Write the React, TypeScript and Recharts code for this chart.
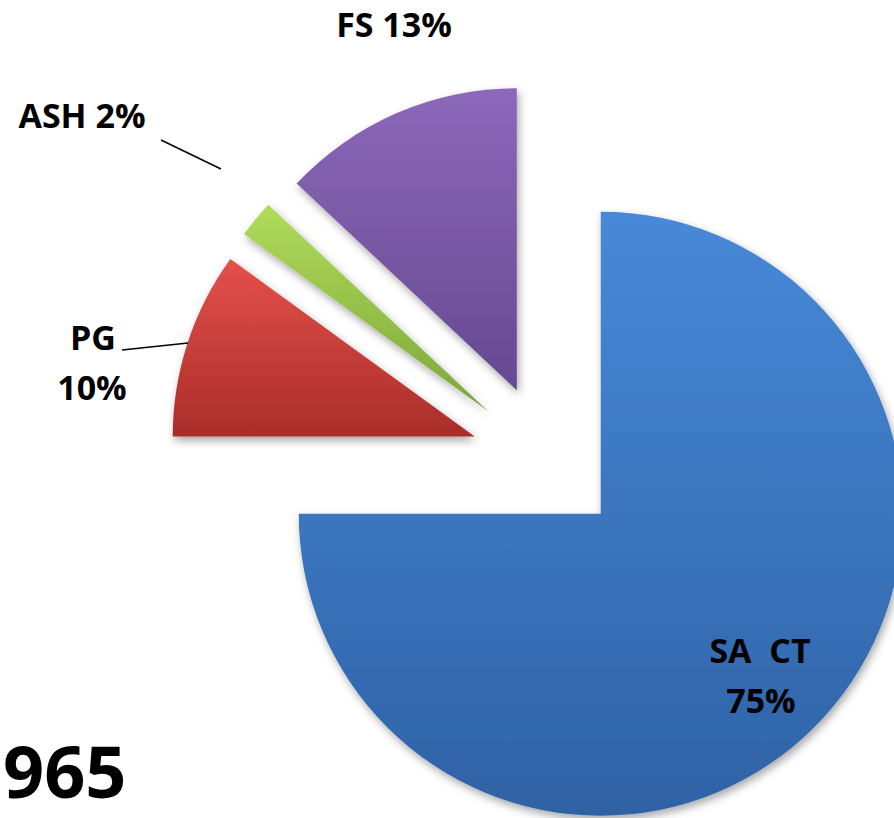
import React from 'react';
import { PieChart, Pie, Cell } from 'recharts';

// slice order is clockwise from 12 o'clock
const categories = ['SA  CT', 'PG', 'ASH', 'FS'];
const shares = [75, 10, 2, 13];
const percentLabels = ['75%', '10%', '2%', '13%'];
const yearText = '965';

const colors = [
  { top: '#4789d8', bottom: '#2f62a5' },
  { top: '#e5504a', bottom: '#a92d2a' },
  { top: '#b0dc5a', bottom: '#7ca63a' },
  { top: '#8c68ba', bottom: '#654990' },
];

const W = 894;
const H = 818;
const CX = 547;
const CY = 460;
const RADIUS = 302;
const EXPLODE = 76;

const data = categories.map((name, i) => ({ name, value: shares[i] }));
const total = shares.reduce((a, b) => a + b, 0);

// offset each slice outwards along its middle angle
const offsets = shares.map((v, i) => {
  const before = shares.slice(0, i).reduce((a, b) => a + b, 0);
  const mid = ((before + v / 2) / total) * 2 * Math.PI;
  return { dx: EXPLODE * Math.sin(mid), dy: -EXPLODE * Math.cos(mid) };
});

const font = '"Open Sans", Lato, sans-serif';

export default function App() {
  return (
    <div style={{ position: 'absolute', left: 0, top: 0, width: W, height: H, background: '#fff', overflow: 'hidden' }}>
      <PieChart width={W} height={H} margin={{ top: 0, right: 0, bottom: 0, left: 0 }}>
        <defs>
          {colors.map((c, i) => (
            <linearGradient key={i} id={`grad${i}`} x1="0" y1="0" x2="0" y2="1">
              <stop offset="0%" stopColor={c.top} />
              <stop offset="100%" stopColor={c.bottom} />
            </linearGradient>
          ))}
          <filter id="shadow" x="-10%" y="-10%" width="130%" height="130%">
            <feDropShadow dx="2" dy="4" stdDeviation="4" floodColor="#000" floodOpacity="0.35" />
          </filter>
        </defs>
        {offsets.map((o, k) => (
          <Pie
            key={k}
            data={data}
            dataKey="value"
            nameKey="name"
            cx={CX + o.dx}
            cy={CY + o.dy}
            outerRadius={RADIUS}
            startAngle={90}
            endAngle={-270}
            stroke="none"
            isAnimationActive={false}
            labelLine={false}
          >
            {data.map((d, i) => (
              <Cell
                key={d.name}
                fill={i === k ? `url(#grad${i})` : 'none'}
                filter={i === k ? 'url(#shadow)' : undefined}
              />
            ))}
          </Pie>
        ))}
      </PieChart>
      <svg width={W} height={H} style={{ position: 'absolute', left: 0, top: 0, pointerEvents: 'none' }}>
        <g fontFamily={font} fontWeight={700} fontSize={34} fill="#000" textAnchor="middle">
          <text x={394} y={37}>{`${categories[3]} ${percentLabels[3]}`}</text>
          <text x={82} y={128}>{`${categories[2]} ${percentLabels[2]}`}</text>
          <text x={93} y={350}>{categories[1]}</text>
          <text x={92} y={400}>{percentLabels[1]}</text>
          <text x={760} y={663} style={{ whiteSpace: 'pre' }}>{categories[0]}</text>
          <text x={761} y={713}>{percentLabels[0]}</text>
        </g>
        <text x={3} y={798} fontFamily={font} fontWeight={700} fontSize={72} fill="#000">{yearText}</text>
        <line x1={161} y1={140} x2={221} y2={169} stroke="#000" strokeWidth={1.5} />
        <line x1={122} y1={350} x2={188} y2={343} stroke="#000" strokeWidth={1.5} />
      </svg>
    </div>
  );
}
